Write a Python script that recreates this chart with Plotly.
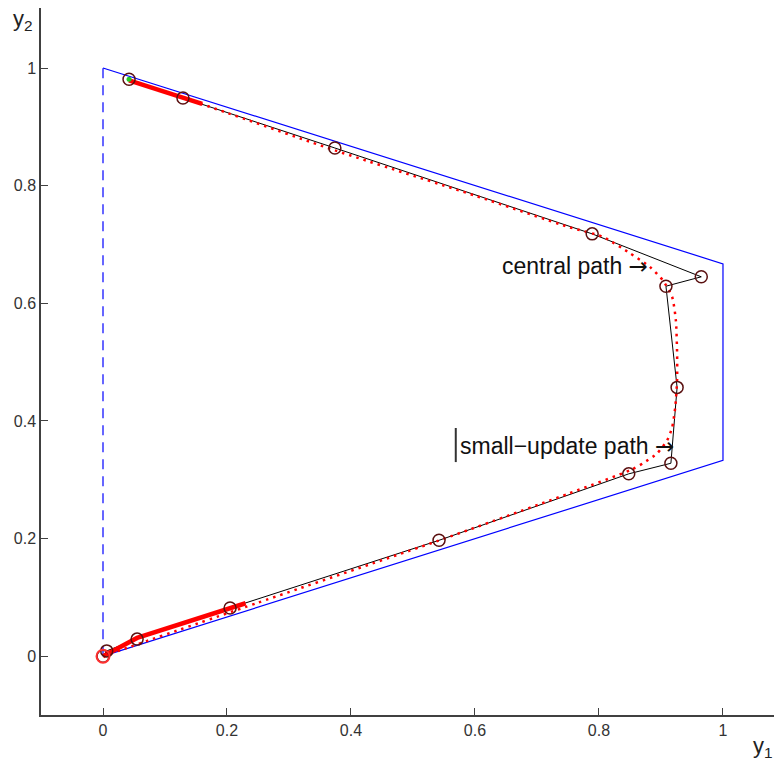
import plotly.graph_objects as go

# Feasible region boundary (blue)
region_x = [0.0, 1.0, 1.0, 0.0]
region_y = [1.0, 0.667, 0.333, 0.0]
dash_x = [0.0, 0.0]
dash_y = [0.0, 1.0]

# Small-update path iterates (black line with circles)
su_x = [0.042, 0.129, 0.374, 0.789, 0.965, 0.908, 0.926, 0.916, 0.848, 0.542, 0.205, 0.055, 0.006, 0.0]
su_y = [0.981, 0.949, 0.864, 0.718, 0.645, 0.629, 0.457, 0.328, 0.310, 0.197, 0.082, 0.029, 0.009, 0.0]

# Central path (red dotted)
cp_x = [0.042, 0.15, 0.374, 0.6, 0.75, 0.806, 0.85, 0.882, 0.903, 0.918, 0.924, 0.926, 0.926,
        0.923, 0.918, 0.91, 0.894, 0.871, 0.85, 0.75, 0.54, 0.25, 0.0]
cp_y = [0.979, 0.942, 0.860, 0.783, 0.730, 0.713, 0.685, 0.662, 0.639, 0.611, 0.571, 0.515, 0.469,
        0.423, 0.389, 0.367, 0.345, 0.328, 0.316, 0.276, 0.196, 0.091, 0.0]

# Dense ends of central path (thick red)
thick_top_x = [0.042, 0.16]
thick_top_y = [0.979, 0.939]
thick_bot_x = [0.0, 0.055, 0.23]
thick_bot_y = [0.0, 0.031, 0.090]

tick_vals = [0, 0.2, 0.4, 0.6, 0.8, 1]
tick_text = ["0", "0.2", "0.4", "0.6", "0.8", "1"]

FONT = "Liberation Sans, Arial, sans-serif"
ARROW = '<span style="font-family:DejaVu Sans">→</span>'

fig = go.Figure()
fig.add_trace(go.Scatter(x=region_x, y=region_y, mode="lines",
                         line=dict(color="#0000ff", width=1.2), hoverinfo="skip"))
fig.add_trace(go.Scatter(x=dash_x, y=dash_y, mode="lines",
                         line=dict(color="#0000ff", width=1.2, dash="10px,7px"), hoverinfo="skip"))
fig.add_trace(go.Scatter(x=su_x, y=su_y, mode="lines",
                         line=dict(color="#000000", width=1)))
fig.add_trace(go.Scatter(x=cp_x, y=cp_y, mode="lines",
                         line=dict(color="#ff0000", width=2.5, dash="2.5px,5px", shape="spline", smoothing=0.6)))
fig.add_trace(go.Scatter(x=thick_top_x, y=thick_top_y, mode="lines",
                         line=dict(color="#ff0000", width=4.5)))
fig.add_trace(go.Scatter(x=thick_bot_x, y=thick_bot_y, mode="lines",
                         line=dict(color="#ff0000", width=4.5)))
fig.add_trace(go.Scatter(x=su_x, y=su_y, mode="markers",
                         marker=dict(symbol="circle-open", size=12, color="#5a1010", line=dict(width=1.5))))
fig.add_trace(go.Scatter(x=[su_x[-1]], y=[su_y[-1]], mode="markers",
                         marker=dict(symbol="circle-open", size=13, color="#ff3030", line=dict(width=2))))
fig.add_trace(go.Scatter(x=[su_x[0]], y=[su_y[0]], mode="markers",
                         marker=dict(symbol="circle", size=5, color="#22cc22")))

fig.add_annotation(x=0.882, y=0.664, xref="x", yref="y", text="central path " + ARROW,
                   showarrow=False, xanchor="right", yanchor="middle",
                   font=dict(family=FONT, size=23, color="#111111"))
fig.add_annotation(x=0.573, y=0.357, xref="x", yref="y", text="small−update path " + ARROW,
                   showarrow=False, xanchor="left", yanchor="middle",
                   font=dict(family=FONT, size=23, color="#111111"))
fig.add_shape(type="line", x0=0.569, x1=0.569, y0=0.330, y1=0.388, xref="x", yref="y",
              line=dict(color="#333333", width=2))

fig.add_annotation(x=-0.025, y=1.005, xref="paper", yref="paper", text="y<sub>2</sub>",
                   showarrow=False, xanchor="center", yanchor="top",
                   font=dict(family=FONT, size=22, color="#222222"))
fig.add_annotation(x=0.985, y=-0.022, xref="paper", yref="paper", text="y<sub>1</sub>",
                   showarrow=False, xanchor="center", yanchor="top",
                   font=dict(family=FONT, size=22, color="#222222"))

axis_common = dict(
    showgrid=False, zeroline=False, showline=True, linecolor="#404040", linewidth=1.5,
    ticks="inside", ticklen=7, tickwidth=1.2, tickcolor="#404040",
    tickvals=tick_vals, ticktext=tick_text,
    tickfont=dict(family=FONT, size=16, color="#333333"),
)
fig.update_xaxes(range=[-0.1, 1.0823], **axis_common)
fig.update_yaxes(range=[-0.1, 1.102], **axis_common)

fig.update_layout(
    width=774, height=760, showlegend=False,
    margin=dict(l=41, r=0, t=8, b=45),
    plot_bgcolor="white", paper_bgcolor="white",
)

fig.write_html("out.html")
